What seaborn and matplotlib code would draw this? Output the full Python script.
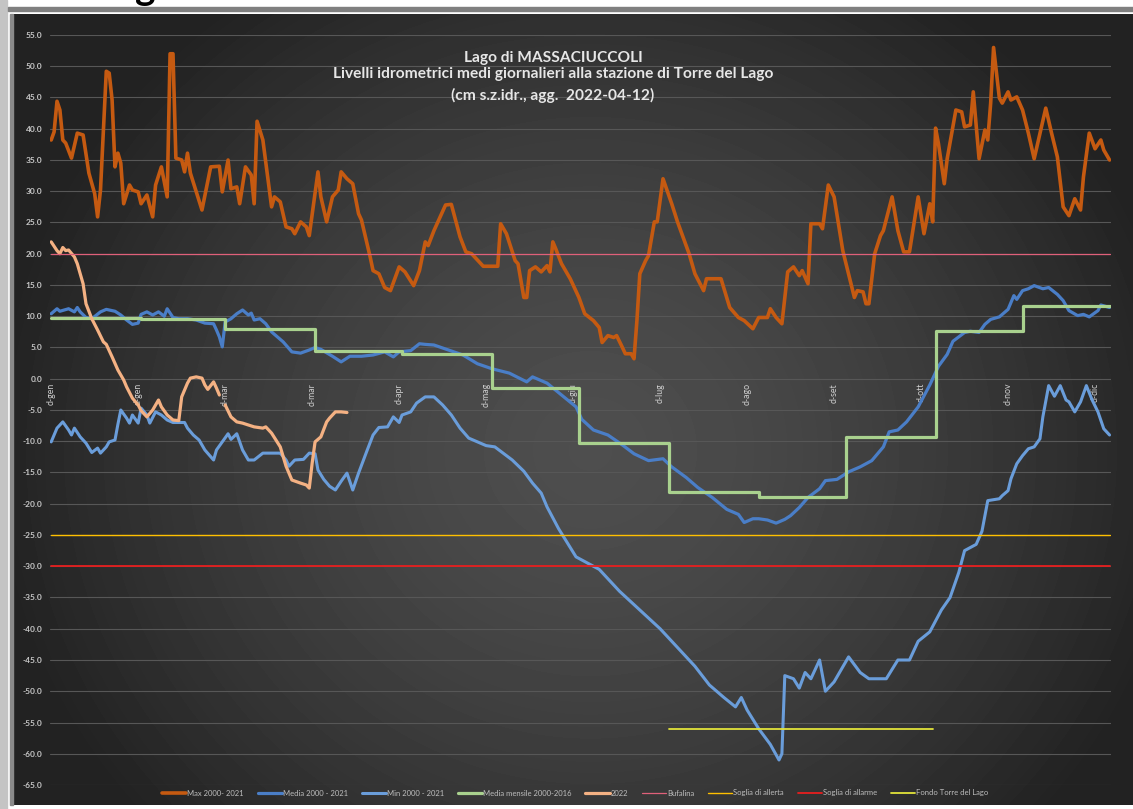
import numpy as np
import pandas as pd
import matplotlib
matplotlib.use("Agg")
import matplotlib.pyplot as plt
import seaborn as sns
from matplotlib.patches import Rectangle

sns.set_theme(style="dark")
plt.rcParams['font.family'] = ['Lato', 'DejaVu Sans']

# --- data (day of year, cm s.z.idr.) ---
max_days = [1, 2, 3, 4, 5, 6, 8, 10, 12, 14,
            16, 17, 18, 20, 21, 22, 23, 24, 25, 26,
            28, 29, 31, 32, 34, 36, 37, 39, 41, 42,
            43, 44, 46, 47, 48, 49, 53, 56, 59, 60,
            62, 63, 65, 66, 68, 70, 71, 72, 74, 77,
            78, 80, 82, 84, 85, 87, 89, 90, 93, 94,
            96, 98, 100, 101, 103, 105, 107, 108, 111, 112,
            114, 116, 118, 121, 123, 126, 128, 130, 131, 133,
            137, 139, 142, 144, 146, 150, 155, 156, 158, 161,
            162, 164, 165, 166, 168, 170, 172, 173, 174, 175,
            177, 180, 183, 185, 188, 190, 191, 193, 195, 196,
            198, 199, 201, 202, 203, 204, 206, 207, 209, 210,
            212, 215, 217, 221, 223, 226, 227, 232, 235, 238,
            240, 243, 245, 248, 249, 251, 253, 255, 257, 259,
            260, 262, 263, 266, 267, 269, 271, 274, 278, 279,
            281, 282, 283, 285, 287, 288, 291, 293, 295, 297,
            300, 302, 304, 305, 306, 307, 309, 310, 313, 315,
            316, 318, 319, 321, 323, 324, 325, 326, 328, 329,
            331, 332, 334, 336, 338, 340, 344, 346, 348, 350,
            352, 354, 356, 357, 359, 361, 363, 364, 366]
max_vals = [38.2, 39.5, 44.4, 43.0, 38.2, 37.7, 35.3, 39.3, 39.0, 32.9,
            29.6, 25.9, 30.2, 49.2, 48.9, 44.6, 33.9, 36.1, 34.5, 28.0,
            31.0, 30.2, 29.9, 28.0, 29.4, 25.9, 31.0, 33.9, 29.1, 52.0,
            52.0, 35.3, 35.0, 33.1, 36.1, 32.9, 27.0, 33.9, 34.0, 29.9,
            35.0, 30.4, 30.7, 28.0, 33.9, 32.6, 28.0, 41.2, 38.2, 27.5,
            29.1, 28.3, 24.3, 24.0, 23.2, 25.1, 24.3, 22.9, 33.1, 29.1,
            25.1, 29.1, 30.2, 33.1, 32.0, 31.2, 26.4, 25.4, 19.5, 17.3,
            16.8, 14.6, 14.1, 17.9, 17.1, 14.9, 17.3, 21.9, 21.3, 23.7,
            27.8, 27.9, 22.7, 20.3, 20.0, 18.0, 18.0, 24.8, 23.2, 18.9,
            18.4, 13.0, 13.0, 17.3, 17.9, 17.1, 18.1, 17.1, 21.9, 20.8,
            18.4, 16.0, 13.0, 10.4, 9.3, 8.2, 5.8, 6.9, 6.6, 6.9,
            5.0, 4.0, 4.0, 3.2, 9.3, 16.8, 18.9, 19.7, 25.1, 25.1,
            32.0, 28.0, 25.1, 20.0, 16.8, 14.1, 16.0, 16.0, 11.4, 9.8,
            9.3, 8.0, 9.8, 9.8, 11.2, 9.8, 8.8, 17.1, 17.9, 16.5,
            17.3, 15.2, 24.8, 24.8, 24.0, 31.0, 29.1, 20.5, 13.0, 14.1,
            13.9, 12.0, 12.0, 20.0, 22.9, 23.7, 29.1, 23.7, 20.3, 20.3,
            29.1, 23.2, 28.0, 25.1, 40.1, 37.6, 31.2, 35.2, 43.0, 42.7,
            40.3, 40.6, 45.9, 35.2, 39.8, 38.2, 44.1, 53.0, 44.9, 44.1,
            45.9, 44.6, 45.1, 43.0, 39.3, 35.2, 43.3, 39.3, 35.5, 27.5,
            26.1, 28.8, 27.0, 32.3, 39.3, 36.8, 38.2, 36.6, 35.0]

media_days = [1, 3, 4, 7, 9, 10, 11, 13, 15, 18,
              20, 23, 25, 27, 29, 31, 32, 34, 36, 38,
              40, 41, 43, 45, 48, 51, 54, 57, 58, 59,
              60, 61, 63, 65, 67, 69, 70, 71, 73, 75,
              77, 81, 84, 87, 90, 92, 94, 98, 101, 104,
              108, 112, 116, 119, 121, 125, 128, 130, 133, 138,
              143, 148, 153, 159, 165, 167, 172, 177, 182, 184,
              188, 193, 198, 202, 207, 212, 215, 220, 224, 229,
              234, 238, 240, 243, 245, 248, 251, 254, 256, 259,
              262, 266, 268, 272, 276, 280, 284, 288, 290, 293,
              296, 300, 304, 307, 310, 312, 316, 318, 321, 323,
              325, 328, 331, 333, 334, 336, 338, 340, 343, 345,
              348, 350, 352, 355, 357, 359, 362, 363, 366]
media_vals = [10.4, 11.2, 10.8, 11.2, 10.7, 11.4, 10.7, 9.8, 9.6, 10.7,
              11.1, 10.8, 10.2, 9.4, 8.7, 8.9, 10.3, 10.7, 10.2, 10.7,
              10.0, 11.2, 9.8, 9.6, 9.6, 9.4, 8.9, 8.8, 7.8, 6.7,
              5.1, 9.1, 9.6, 10.4, 11.0, 10.2, 10.5, 9.4, 9.6, 8.8,
              7.5, 5.9, 4.3, 4.1, 4.6, 5.0, 4.7, 3.6, 2.7, 3.6,
              3.6, 3.8, 4.3, 3.5, 4.3, 4.5, 5.6, 5.5, 5.4, 4.6,
              3.8, 2.4, 1.6, 0.9, -0.5, 0.3, -0.7, -2.6, -4.5, -6.5,
              -8.2, -9.0, -10.6, -12.0, -13.1, -12.8, -14.1, -15.8, -17.4, -19.0,
              -20.9, -21.7, -23.0, -22.4, -22.4, -22.6, -23.1, -22.5, -21.9, -20.6,
              -19.0, -17.6, -16.3, -16.1, -14.9, -14.1, -13.1, -10.9, -8.5, -8.2,
              -6.9, -4.5, -1.0, 2.0, 3.9, 6.0, 7.4, 7.6, 7.4, 8.7,
              9.5, 9.9, 11.1, 13.3, 12.7, 14.1, 14.4, 14.9, 14.4, 14.6,
              13.5, 12.5, 10.9, 10.1, 10.3, 9.9, 10.9, 11.8, 11.4]

min_days = [1, 3, 5, 7, 8, 9, 11, 13, 15, 17,
            18, 20, 21, 23, 24, 25, 27, 28, 29, 31,
            32, 34, 35, 37, 39, 41, 43, 47, 48, 50,
            52, 54, 57, 58, 60, 62, 63, 65, 67, 69,
            71, 74, 80, 82, 83, 85, 88, 90, 92, 93,
            95, 97, 99, 101, 103, 105, 107, 110, 112, 114,
            117, 119, 121, 122, 125, 127, 130, 133, 136, 139,
            142, 145, 148, 151, 154, 156, 160, 164, 167, 170,
            172, 176, 178, 182, 190, 197, 204, 211, 218, 223,
            228, 233, 237, 239, 241, 245, 249, 252, 253, 254,
            257, 259, 261, 263, 266, 268, 271, 276, 280, 283,
            289, 293, 297, 300, 304, 308, 311, 314, 316, 320,
            322, 324, 328, 329, 331, 332, 334, 336, 338, 340,
            342, 343, 345, 347, 349, 351, 352, 354, 356, 358,
            360, 362, 364, 366]
min_vals = [-10.1, -7.9, -6.9, -8.2, -9.0, -7.9, -9.3, -10.3, -11.8, -11.1,
            -11.9, -10.9, -10.1, -9.8, -7.3, -5.0, -6.3, -7.1, -5.8, -7.1,
            -4.7, -5.8, -7.1, -5.3, -5.8, -6.6, -7.0, -7.0, -7.9, -9.0,
            -9.8, -11.4, -13.0, -11.4, -10.1, -8.8, -9.7, -8.8, -11.4, -13.0,
            -13.0, -11.9, -11.9, -13.0, -14.0, -13.0, -12.9, -11.9, -12.0, -14.6,
            -16.1, -17.2, -17.8, -16.4, -15.1, -17.8, -15.1, -11.4, -9.0, -7.8,
            -7.7, -6.1, -7.0, -5.8, -5.3, -3.9, -2.9, -2.9, -4.2, -5.8,
            -7.9, -9.5, -10.1, -10.7, -10.9, -11.6, -13.0, -14.8, -16.7, -18.3,
            -20.5, -24.0, -25.5, -28.5, -30.5, -34.0, -37.0, -40.0, -43.5, -46.0,
            -49.0, -51.0, -52.5, -51.0, -53.0, -56.0, -58.5, -61.0, -60.0, -47.5,
            -48.0, -49.5, -47.0, -48.0, -45.0, -50.0, -48.5, -44.5, -47.0, -48.0,
            -48.0, -45.0, -45.0, -42.0, -40.5, -37.0, -35.0, -31.0, -27.5, -26.5,
            -24.4, -19.5, -19.2, -18.7, -17.9, -16.0, -13.6, -12.3, -11.2, -10.9,
            -9.6, -6.1, -1.1, -2.8, -1.1, -3.4, -3.7, -5.3, -3.7, -1.1,
            -3.4, -5.3, -8.0, -9.0]

month_start = [1, 32, 61, 92, 122, 153, 183, 214, 245, 275, 306, 336]
month_mean = [9.7, 9.6, 7.9, 4.5, 3.9, -1.5, -10.3, -18.1, -19.0, -9.4, 7.7, 11.6]

y2022_days = [1, 3, 4, 5, 6, 7, 9, 10, 12, 13,
              15, 17, 19, 20, 22, 24, 26, 27, 29, 31,
              32, 34, 36, 38, 39, 41, 43, 45, 46, 48,
              49, 51, 53, 54, 55, 57, 58, 59,
              61, 63, 65, 67, 69, 71, 74, 75, 77, 80,
              82, 84, 87, 89, 90, 91, 92, 94, 96, 97,
              99, 101, 103]
y2022_vals = [21.9, 20.5, 20.0, 21.0, 20.5, 20.6, 19.5, 18.4, 15.2, 12.0,
              9.6, 7.8, 5.9, 5.5, 3.5, 1.4, -0.2, -1.3, -3.1, -4.2,
              -5.1, -6.1, -5.0, -3.4, -4.5, -5.8, -6.6, -6.7, -2.9, -0.7,
              0.1, 0.3, 0.1, -1.0, -1.7, -0.5, -1.5, -2.6,
              -4.2, -6.1, -6.9, -7.1, -7.4, -7.7, -7.9, -7.7, -8.7, -10.9,
              -14.0, -16.2, -16.7, -17.0, -17.5, -13.5, -10.1, -9.3, -6.9, -6.3,
              -5.3, -5.3, -5.4]
# 29 Feb (day 60) does not exist in 2022 -> gap in the line

bufalina = 20.0
soglia_allerta = -25.0
soglia_allarme = -30.0
fondo_tdl = -56.0
fondo_days = [214, 305]

tick_days = [1, 31, 61, 91, 121, 151, 181, 211, 241, 271, 301, 331, 361]
tick_labels = ["d-gen", "d-gen", "d-mar", "d-mar", "d-apr", "d-mag", "d-giu",
               "d-lug", "d-ago", "d-set", "d-ott", "d-nov", "d-dic"]

W, H = 1133, 809
fig = plt.figure(figsize=(W / 100, H / 100), dpi=100, facecolor="white")

# page frame around the chart
fig.patches.append(Rectangle((0, 0), 7 / W, 1, transform=fig.transFigure,
                             color="#c4c4c4", zorder=0))
fig.patches.append(Rectangle((8 / W, 1 - 11 / H), 1, 4 / H, transform=fig.transFigure,
                             color="#7f7f7f", zorder=0))
fig.patches.append(Rectangle((10 / W, 4 / H), 3 / W, 791 / H, transform=fig.transFigure,
                             color="#8a8a8a", zorder=0))
fig.text(145 / W, 1.0, "g", ha="center", va="baseline", fontsize=28,
         fontweight="bold", color="black")

# dark radial background of the chart area
bg = fig.add_axes([13 / W, 4 / H, 1120 / W, 791 / H])
yy, xx = np.mgrid[14:805, 13:1133]
r = np.sqrt(((xx - 590) / 600.0) ** 2 + ((yy - 450) / 560.0) ** 2)
shade = 78 - 44 * np.clip(r, 0, 1) ** 1.5
bg.imshow(shade, cmap="gray", vmin=0, vmax=255, extent=[0, 1, 0, 1],
          aspect="auto", interpolation="bilinear")
bg.axis("off")

ax = fig.add_axes([49.75 / W, 1 - 785 / H, 1061.25 / W, 750 / H])
ax.set_facecolor("none")

sns.lineplot(x=max_days, y=max_vals, ax=ax, color="#C55A11", lw=2.6,
             label="Max 2000- 2021")
sns.lineplot(x=media_days, y=media_vals, ax=ax, color="#4A7EC7", lw=2.3,
             label="Media 2000 - 2021")
sns.lineplot(x=min_days, y=min_vals, ax=ax, color="#6A9DDA", lw=2.2,
             label="Min 2000 - 2021")
sns.lineplot(x=month_start + [366], y=month_mean + [month_mean[-1]], ax=ax,
             color="#A9D18E", lw=2.3, drawstyle="steps-post",
             label="Media mensile 2000-2016")

df22 = pd.DataFrame({"day": y2022_days, "val": y2022_vals})
df22["seg"] = np.where(df22["day"] < 60, 0, 1)
sns.lineplot(data=df22, x="day", y="val", units="seg", estimator=None, ax=ax,
             color="#F4B183", lw=2.3, label="2022")

sns.lineplot(x=[1, 366], y=[bufalina] * 2, ax=ax, color="#E0607A", lw=0.9,
             label="Bufalina")
sns.lineplot(x=[1, 366], y=[soglia_allerta] * 2, ax=ax, color="#FFC000", lw=1.0,
             label="Soglia di allerta")
sns.lineplot(x=[1, 366], y=[soglia_allarme] * 2, ax=ax, color="#E81E1E", lw=1.3,
             label="Soglia di allarme")
sns.lineplot(x=fondo_days, y=[fondo_tdl] * 2, ax=ax, color="#E2E33A", lw=1.3,
             label="Fondo Torre del Lago")

for s in ax.spines.values():
    s.set_visible(False)
ax.spines["bottom"].set_position(("data", 0))   # labels sit on the zero line

ax.set_xlim(0.5, 366.5)
ax.set_ylim(-65, 55)
yt = np.arange(-65, 56, 5)
ax.set_yticks(yt)
ax.set_yticklabels([f"{v:.1f}" for v in yt])
ax.set_xticks(tick_days)
ax.set_xticklabels(tick_labels)
ax.set_xlabel("")
ax.set_ylabel("")
ax.tick_params(axis="x", length=0, pad=3, labelsize=6.3, labelcolor="#cfcfcf",
               labelrotation=90)
ax.tick_params(axis="y", length=0, pad=5.5, labelsize=6, labelcolor="#c8c8c8")
for t in ax.get_yticklabels():
    t.set_fontweight("bold")
ax.grid(axis="y", color="#575757", lw=0.8)
ax.grid(axis="x", visible=False)
ax.set_axisbelow(True)

# one legend entry per series
handles, labels = ax.get_legend_handles_labels()
uniq = {}
for h, l in zip(handles, labels):
    uniq.setdefault(l, h)
ax.get_legend().remove()
fig.legend(list(uniq.values()), list(uniq.keys()), loc="center",
           bbox_to_anchor=(575 / W, 1 - 793 / H), ncol=9, frameon=False,
           fontsize=5.5, labelcolor="#bdbdbd", handlelength=3.2,
           handletextpad=0.1, columnspacing=1.8)

title_lines = ["Lago di MASSACIUCCOLI",
               "Livelli idrometrici medi giornalieri alla stazione di Torre del Lago",
               "(cm s.z.idr., agg.  2022-04-12)"]
for txt, ypx in zip(title_lines, [58, 74, 95]):
    fig.text(553 / W, 1 - ypx / H, txt, ha="center", va="center", fontsize=11.2,
             fontweight="bold", color="#e6e6e6")

fig.savefig("out.png", dpi=100, facecolor=fig.get_facecolor())
